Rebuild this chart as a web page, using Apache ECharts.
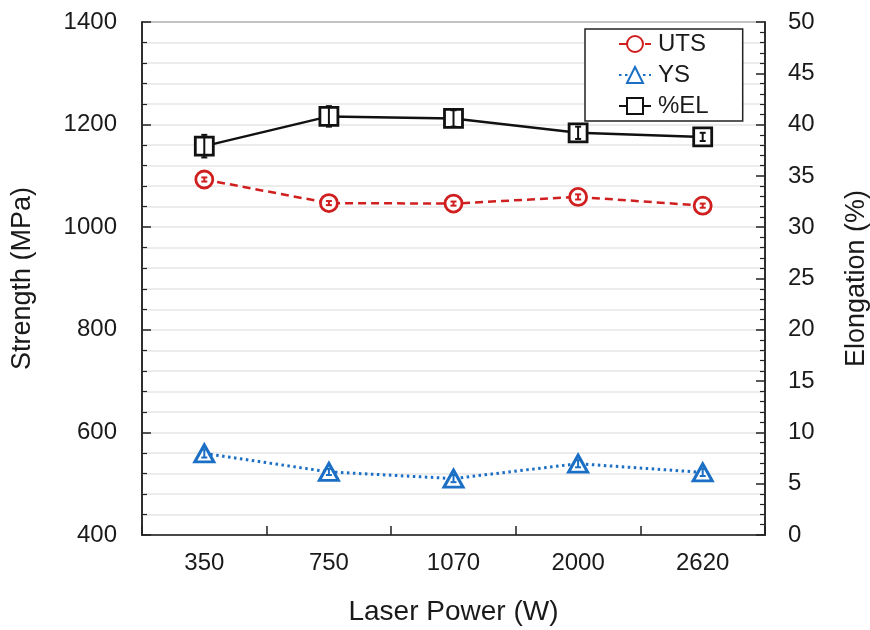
<!DOCTYPE html>
<html>
<head>
<meta charset="utf-8">
<script src="https://cdn.jsdelivr.net/npm/echarts@6/dist/echarts.min.js"></script>
<style>
  html, body { margin: 0; padding: 0; background: #fff; }
  #chart { width: 870px; height: 630px; }
</style>
</head>
<body>
<div id="chart"></div>
<script>
// Laser power levels (W)
const categories = ['350', '750', '1070', '2000', '2620'];

// Ultimate tensile strength (MPa) and its scatter
const utsValues = [1093, 1047, 1046, 1059, 1042];
const utsErrors = [4, 4, 4, 5, 4];

// Yield strength (MPa) and its scatter
const ysValues = [559, 523, 510, 539, 522];
const ysErrors = [8, 6, 7, 7, 7];

// Elongation (%) and its scatter
const elValues = [37.9, 40.8, 40.6, 39.2, 38.8];
const elErrors = [1.1, 1.0, 0.8, 0.6, 0.4];

const RED = '#d01f1f';
const BLUE = '#1b6fc4';
const BLACK = '#111111';
const FONT = 'Liberation Sans, Arial, sans-serif';
const TEXT = '#1a1a1a';

function errorRows(values, errors) {
  return values.map((v, i) => [i, v, errors[i]]);
}

// Vertical whisker with short caps, drawn through the axis scales
function whisker(color) {
  return function (params, api) {
    const x = api.value(0), y = api.value(1), e = api.value(2);
    const hi = api.coord([x, y + e]);
    const lo = api.coord([x, y - e]);
    const cap = 3;
    const style = { stroke: color, lineWidth: 2 };
    return {
      type: 'group',
      children: [
        { type: 'line', shape: { x1: hi[0], y1: hi[1], x2: lo[0], y2: lo[1] }, style },
        { type: 'line', shape: { x1: hi[0] - cap, y1: hi[1], x2: hi[0] + cap, y2: hi[1] }, style },
        { type: 'line', shape: { x1: lo[0] - cap, y1: lo[1], x2: lo[0] + cap, y2: lo[1] }, style }
      ]
    };
  };
}

const plainNumber = (v) => String(v);

const chart = echarts.init(document.getElementById('chart'), null, { renderer: 'canvas' });

const axisLine = { show: true, lineStyle: { color: '#222', width: 1.5 } };

chart.setOption({
  animation: false,
  backgroundColor: '#fff',
  textStyle: { fontFamily: FONT, color: TEXT },
  grid: {
    left: 142, right: 105, top: 22, bottom: 95,
    containLabel: false,
    outerBoundsMode: 'none',
    show: true, borderColor: '#222', borderWidth: 1.5, backgroundColor: 'transparent'
  },
  legend: {
    data: ['UTS', 'YS', '%EL'],
    orient: 'vertical',
    left: 585, top: 29,
    padding: [3, 34, 3, 33],
    itemGap: 7,
    itemWidth: 32, itemHeight: 20,
    borderColor: '#222', borderWidth: 1.5,
    backgroundColor: '#fff',
    textStyle: { fontFamily: FONT, fontSize: 24, color: TEXT, lineHeight: 22, padding: [0, 0, 0, 2] }
  },
  xAxis: {
    type: 'category',
    data: categories,
    boundaryGap: true,
    name: 'Laser Power (W)',
    nameLocation: 'middle',
    nameGap: 63,
    nameTextStyle: { fontFamily: FONT, fontSize: 28, color: TEXT },
    axisLine,
    axisTick: { show: true, inside: true, length: 9, alignWithLabel: false, lineStyle: { color: '#222', width: 1.5 } },
    axisLabel: { fontFamily: FONT, fontSize: 24, color: TEXT, margin: 16 },
    splitLine: { show: false }
  },
  yAxis: [
    {
      type: 'value',
      min: 400, max: 1400, interval: 200,
      name: 'Strength (MPa)',
      nameLocation: 'middle',
      nameRotate: 90,
      nameGap: 106,
      nameTextStyle: { fontFamily: FONT, fontSize: 27, color: TEXT },
      axisLine,
      axisTick: { show: true, inside: true, length: 9, lineStyle: { color: '#222', width: 1.5 } },
      minorTick: { show: true, splitNumber: 5, length: 5, lineStyle: { color: '#222', width: 1.2 } },
      axisLabel: { fontFamily: FONT, fontSize: 24, color: TEXT, margin: 25, formatter: plainNumber },
      splitLine: { show: true, lineStyle: { color: '#e6e6e6', width: 1.5 } },
      minorSplitLine: { show: true, lineStyle: { color: '#e6e6e6', width: 1.5 } }
    },
    {
      type: 'value',
      min: 0, max: 50, interval: 5,
      name: 'Elongation (%)',
      nameLocation: 'middle',
      nameRotate: 90,
      nameGap: 78,
      nameTextStyle: { fontFamily: FONT, fontSize: 27, color: TEXT },
      axisLine,
      axisTick: { show: true, inside: true, length: 9, lineStyle: { color: '#222', width: 1.5 } },
      minorTick: { show: true, splitNumber: 5, length: 5, lineStyle: { color: '#222', width: 1.2 } },
      axisLabel: { fontFamily: FONT, fontSize: 24, color: TEXT, margin: 23, formatter: plainNumber },
      splitLine: { show: false },
      minorSplitLine: { show: false }
    }
  ],
  series: [
    {
      name: 'UTS', type: 'line', yAxisIndex: 0, data: utsValues,
      symbol: 'circle', symbolSize: 17, z: 3,
      lineStyle: { color: RED, width: 2.5, type: [8, 5] },
      itemStyle: { color: '#fff', borderColor: RED, borderWidth: 2.8 }
    },
    {
      name: 'YS', type: 'line', yAxisIndex: 0, data: ysValues,
      symbol: 'triangle', symbolSize: [19, 17], z: 3,
      lineStyle: { color: BLUE, width: 3, type: [2.5, 3.5] },
      itemStyle: { color: '#fff', borderColor: BLUE, borderWidth: 3 }
    },
    {
      name: '%EL', type: 'line', yAxisIndex: 1, data: elValues,
      symbol: 'rect', symbolSize: 18, z: 3,
      lineStyle: { color: BLACK, width: 2.5 },
      itemStyle: { color: '#fff', borderColor: BLACK, borderWidth: 2.8 }
    },
    {
      type: 'custom', yAxisIndex: 0, z: 4, silent: true,
      data: errorRows(utsValues, utsErrors), renderItem: whisker(RED)
    },
    {
      type: 'custom', yAxisIndex: 0, z: 4, silent: true,
      data: errorRows(ysValues, ysErrors), renderItem: whisker(BLUE)
    },
    {
      type: 'custom', yAxisIndex: 1, z: 4, silent: true,
      data: errorRows(elValues, elErrors), renderItem: whisker(BLACK)
    }
  ]
});
</script>
</body>
</html>
